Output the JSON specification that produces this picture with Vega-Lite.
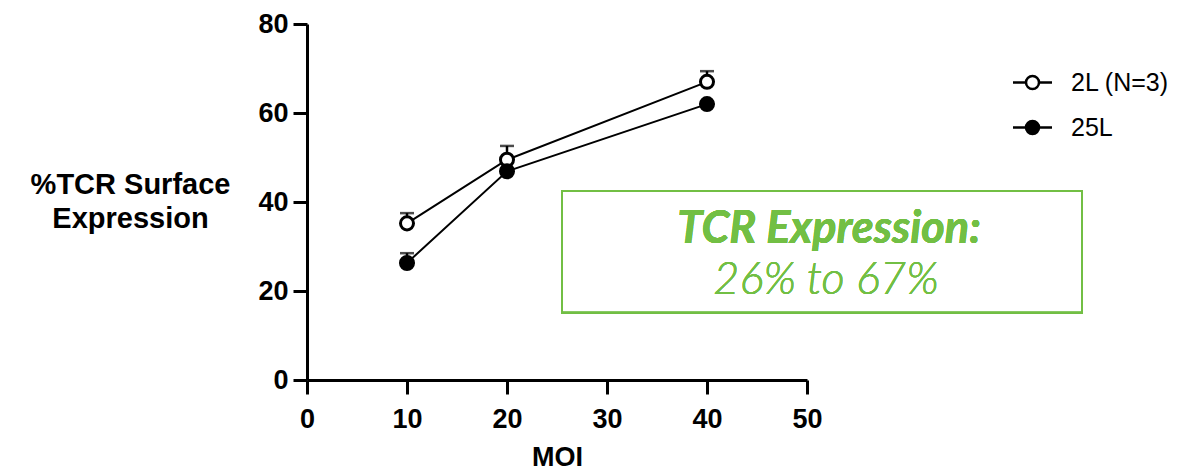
{
  "$schema": "https://vega.github.io/schema/vega-lite/v6.json",
  "autosize": {"type": "none"},
  "width": 500,
  "height": 356,
  "padding": {"left": 307, "top": 24, "right": 397, "bottom": 96},
  "background": "white",
  "config": {
    "view": {"stroke": null},
    "font": "Liberation Sans",
    "axis": {
      "grid": false,
      "domainColor": "black",
      "domainWidth": 3,
      "tickColor": "black",
      "tickWidth": 3,
      "tickSize": 14,
      "labelFont": "Liberation Sans",
      "labelFontWeight": "bold",
      "labelFontSize": 27,
      "labelColor": "black",
      "labelFlush": false,
      "titleFont": "Liberation Sans",
      "titleFontWeight": "bold",
      "titleColor": "black"
    }
  },
  "data": {
    "values": [
      {"moi": 10, "series": "2L (N=3)", "mean": 35.2, "hi": 37.5},
      {"moi": 20, "series": "2L (N=3)", "mean": 49.5, "hi": 52.6},
      {"moi": 40, "series": "2L (N=3)", "mean": 67.0, "hi": 69.4},
      {"moi": 10, "series": "25L", "mean": 26.3, "hi": 28.5},
      {"moi": 20, "series": "25L", "mean": 46.9, "hi": 49.4},
      {"moi": 40, "series": "25L", "mean": 62.0, "hi": 62.5}
    ]
  },
  "layer": [
    {
      "mark": {"type": "rect", "fill": null, "stroke": "#72bf44", "strokeWidth": 2, "clip": false},
      "encoding": {
        "x": {"datum": 25.5, "type": "quantitative", "scale": {"domain": [0, 50], "nice": false}, "title": "MOI"},
        "x2": {"datum": 77.5},
        "y": {"datum": 42.5, "type": "quantitative", "scale": {"domain": [0, 80], "nice": false}, "title": ["%TCR Surface", "Expression"]},
        "y2": {"datum": 15.1}
      }
    },
    {
      "mark": {"type": "text", "text": "TCR Expression:", "font": "Lato", "fontStyle": "italic", "fontWeight": "bold", "fontSize": 45, "color": "#72bf44", "align": "center", "baseline": "alphabetic"},
      "encoding": {
        "x": {"datum": 52.2, "type": "quantitative"},
        "y": {"datum": 30.8, "type": "quantitative"}
      }
    },
    {
      "mark": {"type": "text", "text": "26% to 67%", "font": "Lato", "fontStyle": "italic", "fontWeight": 300, "fontSize": 45, "color": "#72bf44", "align": "center", "baseline": "alphabetic"},
      "encoding": {
        "x": {"datum": 51.9, "type": "quantitative"},
        "y": {"datum": 19.4, "type": "quantitative"}
      }
    },
    {
      "mark": {"type": "errorbar", "ticks": {"size": 14, "thickness": 2.5, "color": "black"}, "rule": {"strokeWidth": 2.5, "color": "black"}},
      "encoding": {
        "x": {"field": "moi", "type": "quantitative"},
        "y": {"field": "mean", "type": "quantitative", "title": ["%TCR Surface", "Expression"]},
        "y2": {"field": "hi"},
        "detail": {"field": "series"}
      }
    },
    {
      "mark": {"type": "line", "color": "black", "strokeWidth": 2},
      "encoding": {
        "x": {"field": "moi", "type": "quantitative", "title": "MOI"},
        "y": {"field": "mean", "type": "quantitative", "title": ["%TCR Surface", "Expression"]},
        "detail": {"field": "series"}
      }
    },
    {
      "mark": {"type": "point", "filled": true, "stroke": "black", "strokeWidth": 3, "size": 170, "shape": "circle", "opacity": 1},
      "encoding": {
        "x": {
          "field": "moi", "type": "quantitative", "title": "MOI",
          "axis": {"values": [0, 10, 20, 30, 40, 50], "titleFontSize": 27, "titlePadding": 12, "labelPadding": 12}
        },
        "y": {
          "field": "mean", "type": "quantitative", "title": ["%TCR Surface", "Expression"],
          "axis": {"values": [0, 20, 40, 60, 80], "titleFontSize": 29, "titleAngle": 0, "titleAlign": "center", "titleBaseline": "alphabetic", "titleLineHeight": 34, "titleX": -177, "titleY": 169, "labelPadding": 5}
        },
        "fill": {
          "field": "series", "type": "nominal",
          "scale": {"domain": ["2L (N=3)", "25L"], "range": ["white", "black"]},
          "legend": {
            "title": null,
            "orient": "none",
            "legendX": 713,
            "legendY": 46,
            "symbolType": "M-3,0H-1M1,0H3M-1,0A1,1 0 1,0 1,0A1,1 0 1,0 -1,0Z",
            "symbolSize": 169,
            "symbolStrokeColor": "black",
            "symbolStrokeWidth": 2.5,
            "labelFont": "Liberation Sans",
            "labelFontSize": 25,
            "labelColor": "black",
            "labelOffset": 26,
            "rowPadding": 19
          }
        }
      }
    }
  ]
}
